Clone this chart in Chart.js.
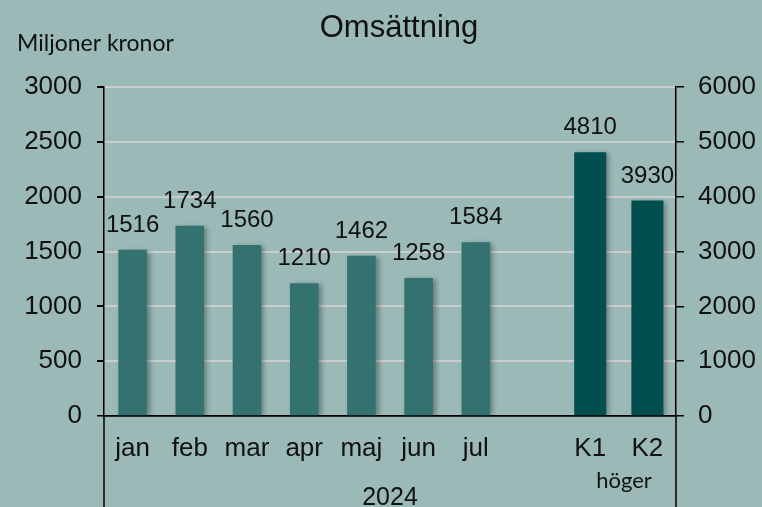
<!DOCTYPE html>
<html>
<head>
<meta charset="utf-8">
<script src="https://cdn.jsdelivr.net/npm/chart.js@4.4.1/dist/chart.umd.min.js"></script>
<style>
  html, body { margin: 0; padding: 0; background: #9ab9b7; }
  canvas { display: block; }
</style>
</head>
<body>
<canvas id="chart" width="762" height="507"></canvas>
<script>
// Omsättning — months on left axis, quarters (K1, K2) on right axis
const categories    = ['jan', 'feb', 'mar', 'apr', 'maj', 'jun', 'jul', '', 'K1', 'K2'];
const monthValues   = [1516, 1734, 1560, 1210, 1462, 1258, 1584, null, null, null];
const quarterValues = [null, null, null, null, null, null, null, null, 4810, 3930];
const leftTicks     = [0, 500, 1000, 1500, 2000, 2500, 3000];
const rightTicks    = [0, 1000, 2000, 3000, 4000, 5000, 6000];

const COLORS = {
  month:   '#347270',
  quarter: '#004f4e',
  grid:    '#cccccc',
  axis:    '#000000',
  text:    '#111111'
};
const ARIAL = "'Liberation Sans', Arial, sans-serif";
const SOFT  = "Lato, 'Open Sans', sans-serif";

// ── shadows under bars, value labels, and the loose texts around the plot
const decorPlugin = {
  id: 'decor',
  beforeDatasetsDraw(chart) {
    const c = chart.ctx;
    c.save();
    c.shadowColor = 'rgba(0,0,0,0.35)';
    c.shadowBlur = 5;
    c.shadowOffsetX = 3;
    c.shadowOffsetY = 1;
  },
  afterDatasetsDraw(chart) {
    const c = chart.ctx;
    c.restore();
    c.save();
    c.fillStyle = COLORS.text;
    c.font = '24px ' + ARIAL;
    c.textAlign = 'center';
    c.textBaseline = 'alphabetic';
    chart.data.datasets.forEach((ds, i) => {
      chart.getDatasetMeta(i).data.forEach((bar, j) => {
        const v = ds.data[j];
        if (v == null) return;
        c.fillText(String(v), bar.x, bar.y - 18);
      });
    });
    c.restore();
  },
  afterDraw(chart) {
    const c = chart.ctx;
    const a = chart.chartArea;
    c.save();
    // group separators below the category axis
    c.strokeStyle = COLORS.axis;
    c.lineWidth = 1.5;
    c.beginPath();
    c.moveTo(a.left, a.bottom);
    c.lineTo(a.left, chart.height);
    c.moveTo(a.right, a.bottom);
    c.lineTo(a.right, chart.height);
    c.stroke();

    c.fillStyle = COLORS.text;
    c.textBaseline = 'alphabetic';
    c.textAlign = 'center';
    c.font = '31px ' + ARIAL;
    c.fillText('Omsättning', 399, 37);
    c.font = '25px ' + ARIAL;
    c.fillText('2024', (a.left + a.right) / 2, 505);
    c.font = '22px ' + SOFT;
    c.fillText('höger', 624, 488);
    c.textAlign = 'left';
    c.font = '23px ' + SOFT;
    c.fillText('Miljoner kronor', 17, 51);
    c.restore();
  }
};

new Chart(document.getElementById('chart'), {
  type: 'bar',
  data: {
    labels: categories,
    datasets: [
      {
        label: 'Månad',
        data: monthValues,
        yAxisID: 'y',
        backgroundColor: COLORS.month,
        barPercentage: 0.5,
        categoryPercentage: 1,
        grouped: false
      },
      {
        label: 'Kvartal',
        data: quarterValues,
        yAxisID: 'y2',
        backgroundColor: COLORS.quarter,
        barPercentage: 0.56,
        categoryPercentage: 1,
        grouped: false
      }
    ]
  },
  options: {
    responsive: false,
    animation: false,
    layout: { padding: { top: 87, left: 0, right: 0, bottom: 0 } },
    plugins: {
      legend: { display: false },
      title: { display: false },
      tooltip: { enabled: false }
    },
    scales: {
      x: {
        grid: { display: true, drawOnChartArea: false, drawTicks: false, color: 'transparent' },
        border: { display: true, color: COLORS.axis, width: 1.5 },
        ticks: { color: COLORS.text, font: { family: ARIAL, size: 26 }, padding: 17, maxRotation: 0, autoSkip: false },
        afterFit: s => { s.height = 91; }
      },
      y: {
        position: 'left',
        min: 0, max: 3000,
        afterBuildTicks: s => { s.ticks = leftTicks.map(v => ({ value: v })); },
        grid: {
          color: ctx => ctx.tick && ctx.tick.value === 0 ? COLORS.axis : COLORS.grid,
          lineWidth: ctx => ctx.tick && ctx.tick.value === 0 ? 1.5 : 2,
          tickColor: COLORS.axis,
          tickLength: 7
        },
        border: { display: true, color: COLORS.axis, width: 1.5 },
        ticks: { color: COLORS.text, font: { family: ARIAL, size: 26 }, padding: 15, callback: v => String(v) },
        afterFit: s => { s.width = 104; }
      },
      y2: {
        position: 'right',
        min: 0, max: 6000,
        afterBuildTicks: s => { s.ticks = rightTicks.map(v => ({ value: v })); },
        grid: { drawOnChartArea: false, color: COLORS.axis, tickColor: COLORS.axis, tickLength: 8, lineWidth: 1.5 },
        border: { display: true, color: COLORS.axis, width: 1.5 },
        ticks: { color: COLORS.text, font: { family: ARIAL, size: 26 }, padding: 14, callback: v => String(v) },
        afterFit: s => { s.width = 86; }
      }
    }
  },
  plugins: [decorPlugin]
});
</script>
</body>
</html>
